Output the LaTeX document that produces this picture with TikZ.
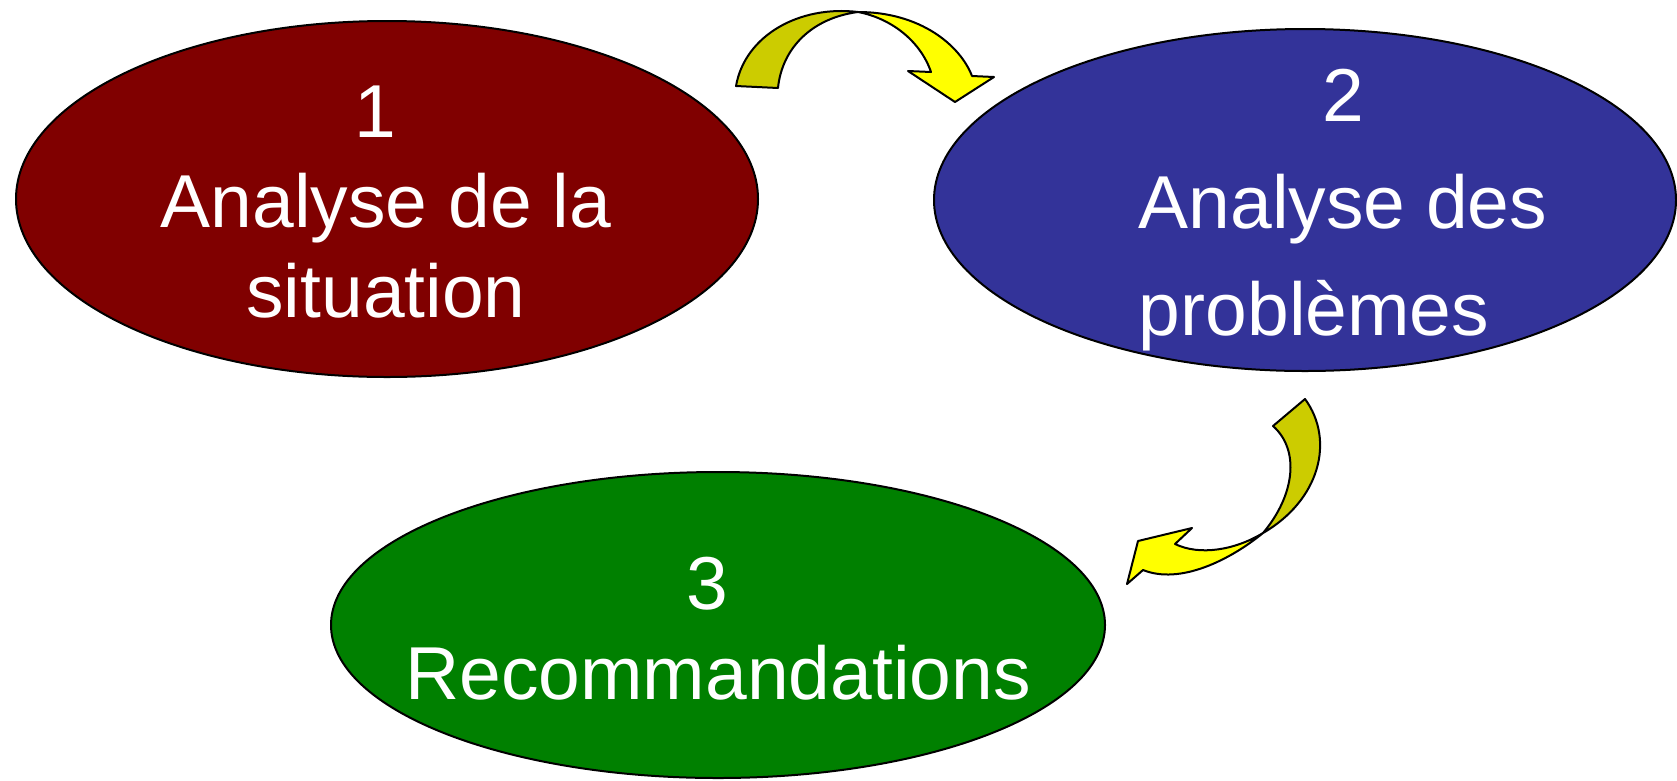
\documentclass[tikz,border=0pt]{standalone}
\usepackage{fontspec}
\setmainfont{Liberation Sans}
\definecolor{phaseA}{HTML}{800000}
\definecolor{phaseB}{HTML}{333399}
\definecolor{phaseC}{HTML}{008000}
\definecolor{arrowlight}{HTML}{FFFF00}
\definecolor{arrowdark}{HTML}{CCCC00}
\newcommand{\trail}{\hspace*{0.28em}}

\begin{document}
\begin{tikzpicture}[x=1pt,y=-1pt, line width=2pt, line join=round,
  every text node part/.style={align=center},
  every node/.style={text=white, font=\fontsize{75}{90}\selectfont}]

\useasboundingbox(0,0)rectangle(1677,780);

\draw[fill=phaseA](387,199)ellipse(371 and 178);
\draw[fill=phaseB](1305,200)ellipse(371 and 171);
\draw[fill=phaseC](718,625)ellipse(387 and 153);

% text: base anchor sits on the last line
\node[anchor=base](sit)at(386,317){1\trail\\Analyse de la\trail\\situation};
\node[anchor=base,font=\fontsize{75}{107}\selectfont](pb)at(1343,335){2\\Analyse des\\probl\`emes\hspace*{58pt}};
\node[anchor=base](rec)at(718,699){3\trail\\Recommandations};

% arrow 1 -> 2
\draw[fill=arrowdark](736,86)..controls(745,35)and(800,5)..(858,12)
  ..controls(812,18)and(782,48)..(778,88)--cycle;
\draw[fill=arrowlight](858,12)..controls(920,12)and(960,45)..(972,76)
  --(994,77)--(955,102)--(908,71)--(931,72)
  ..controls(920,40)and(890,18)..(858,12);

% arrow 2 -> 3
\draw[fill=arrowdark](1305,399)..controls(1335,440)and(1320,500)..(1263,533)
  ..controls(1295,495)and(1300,450)..(1273,426)--cycle;
\draw[fill=arrowlight](1263,533)..controls(1230,560)and(1180,585)..(1143,570)
  --(1127,584)--(1138,541)--(1192,528)--(1175,544)
  ..controls(1200,556)and(1235,550)..(1263,533);

\end{tikzpicture}
\end{document}
